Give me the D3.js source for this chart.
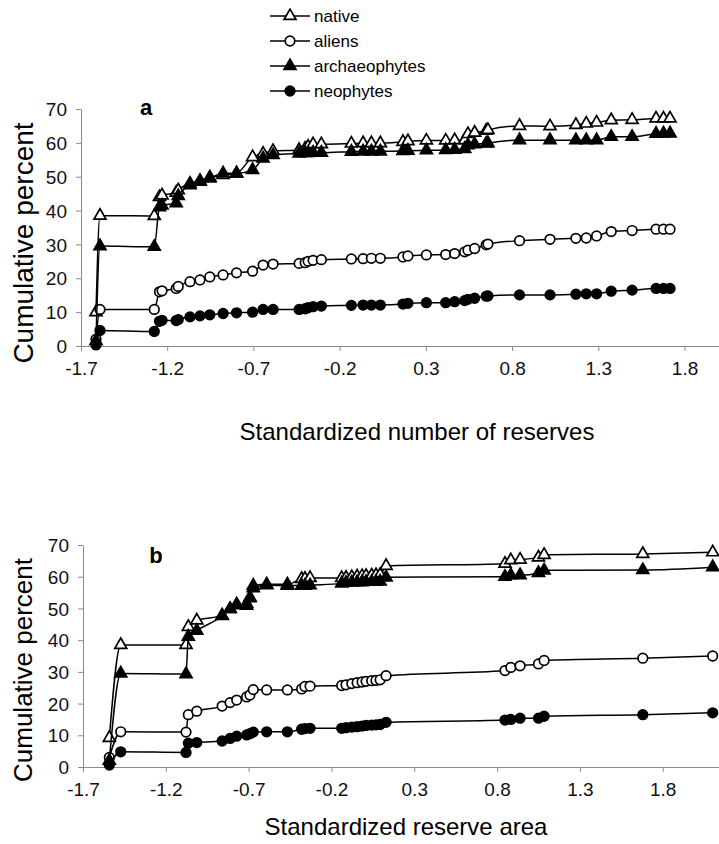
<!DOCTYPE html>
<html>
<head>
<meta charset="utf-8">
<script src="https://cdn.jsdelivr.net/npm/d3@7"></script>
<style>
body { margin: 0; background: #fff; }
text { font-family: "Liberation Sans", Arial, sans-serif; }
</style>
</head>
<body>
<script>
// series shared by both panels
var seriesNames = ["native", "aliens", "archaeophytes", "neophytes"]
var xTicks = [-1.7, -1.2, -0.7, -0.2, 0.3, 0.8, 1.3, 1.8]
var yTicks = [0, 10, 20, 30, 40, 50, 60, 70]

// panel a: standardized number of reserves
var xA = [-1.613, -1.59, -1.275, -1.245, -1.23, -1.148, -1.136, -1.068, -1.01, -0.953,
  -0.876, -0.798, -0.705, -0.644, -0.586, -0.435, -0.40, -0.383, -0.354, -0.306,
  -0.132, -0.064, -0.016, 0.036, 0.167, 0.196, 0.303, 0.415, 0.467, 0.525,
  0.544, 0.583, 0.65, 0.66, 0.843, 1.02, 1.17, 1.23, 1.29, 1.375,
  1.496, 1.635, 1.678, 1.716]
var nativeA = [10, 38.5, 38.4, 44, 44.5, 45.3, 46, 48, 48.8, 49.8,
  50.5, 51, 55.8, 56.8, 57.6, 57.9, 58.3, 58.9, 59.6, 59.6,
  59.8, 59.9, 59.9, 59.9, 60.3, 60.5, 60.7, 60.7, 60.8, 60.8,
  62.6, 63, 63.6, 63.8, 65, 64.9, 65.3, 65.7, 66, 66.7,
  66.8, 67.2, 67.2, 67.2]
var aliensA = [2, 10.8, 10.8, 16, 16.3, 17, 17.6, 19, 19.5, 20.4,
  21, 21.6, 22.1, 23.9, 24.2, 24.4, 24.6, 25, 25.3, 25.5,
  25.7, 25.8, 25.9, 25.9, 26.3, 26.6, 26.9, 27, 27.3, 27.8,
  28.3, 28.8, 29.9, 30.1, 31.1, 31.5, 31.8, 31.9, 32.5, 33.8,
  34.1, 34.5, 34.5, 34.5]
var archA = [1.5, 29.5, 29.3, 41, 41.5, 42.2, 44.3, 47.5, 48.5, 49.5,
  51, 51, 52, 55.4, 56.4, 56.9, 57, 57, 57.1, 57.1,
  57.4, 57.5, 57.5, 57.5, 57.6, 57.7, 57.8, 57.9, 58, 58.2,
  59.3, 59.6, 59.8, 59.9, 60.8, 60.8, 60.8, 60.8, 60.8, 61.8,
  61.8, 62.7, 62.8, 62.8]
var neoA = [0.3, 4.6, 4.3, 7.3, 7.6, 7.5, 7.8, 8.6, 8.9, 9.2,
  9.6, 9.8, 10, 10.8, 10.8, 10.8, 11, 11.3, 11.6, 11.8,
  12, 12.1, 12.1, 12.1, 12.4, 12.6, 12.8, 12.8, 13.1, 13.4,
  13.8, 14.1, 14.7, 14.8, 15.1, 15.1, 15.3, 15.4, 15.4, 16.2,
  16.5, 17, 17, 17]

// panel b: standardized reserve area
var xB = [-1.541, -1.472, -1.078, -1.064, -1.013, -0.86, -0.812, -0.772, -0.712, -0.692,
  -0.672, -0.591, -0.466, -0.38, -0.36, -0.329, -0.138, -0.112, -0.077, -0.045,
  -0.015, 0.009, 0.043, 0.069, 0.094, 0.13, 0.848, 0.883, 0.939, 1.05,
  1.084, 1.68, 2.102]
var nativeB = [9.2, 38.5, 38.5, 44.2, 46.2, 47.8, 49.8, 51, 51.5, 53.5,
  57.2, 57.6, 57.6, 59.3, 59.4, 59.6, 59.6, 59.7, 59.9, 60.1,
  60.2, 60.3, 60.4, 60.5, 60.6, 63.4, 64.1, 65.2, 65.4, 66.1,
  66.9, 67.2, 67.7]
var aliensB = [3, 11.1, 11, 16.5, 17.6, 19.2, 20.3, 21.1, 22.1, 22.7,
  24.4, 24.3, 24.3, 24.6, 25.4, 25.5, 25.7, 25.9, 26.3, 26.6,
  26.8, 27, 27.2, 27.3, 27.5, 28.8, 30.4, 31.4, 31.9, 32.5,
  33.6, 34.3, 35]
var archB = [2, 29.5, 29.3, 41.1, 43, 47.6, 49.8, 51.3, 50.9, 53.2,
  56.4, 57.3, 57.2, 57.2, 57.2, 57.3, 57.9, 58.1, 58.2, 58.3,
  58.3, 58.4, 58.4, 58.4, 58.5, 59.8, 60, 60.5, 60.5, 61.2,
  62, 62.1, 63]
var neoB = [0.6, 4.8, 4.6, 7.5, 7.7, 8.2, 9, 9.7, 10.1, 10.5,
  11, 11.1, 11.1, 11.9, 12.1, 12.2, 12.2, 12.4, 12.6, 12.7,
  12.9, 13.1, 13.2, 13.3, 13.4, 14.1, 14.8, 15, 15.4, 15.4,
  16, 16.5, 17.1]

var width = 719
var height = 844

var svg = d3.select("body")
  .append("svg")
  .attr("width", width)
  .attr("height", height)

// marker look per series: shape + fill
var styles = [
  { shape: d3.symbolTriangle, fill: "#fff", size: 62 },
  { shape: d3.symbolCircle, fill: "#fff", size: 72 },
  { shape: d3.symbolTriangle, fill: "#000", size: 62 },
  { shape: d3.symbolCircle, fill: "#000", size: 72 }
]

function drawPanel(p) {
  var x = d3.scaleLinear().domain(p.xDomain).range(p.xRange)
  var y = d3.scaleLinear().domain([0, 70]).range(p.yRange)
  var g = svg.append("g")

  var xAxis = g.append("g")
    .attr("transform", "translate(0," + p.yRange[0] + ")")
    .call(d3.axisBottom(x).tickValues(xTicks).tickSizeInner(5).tickSizeOuter(0)
      .tickFormat(function(d) { return d.toFixed(1) }))
  var yAxis = g.append("g")
    .attr("transform", "translate(" + p.xRange[0] + ",0)")
    .call(d3.axisLeft(y).tickValues(yTicks).tickSizeInner(5).tickSizeOuter(0)
      .tickFormat(d3.format("d")))

  ;[xAxis, yAxis].forEach(function(a) {
    a.select(".domain").attr("stroke", "#8a8a8a").attr("stroke-width", 1)
    a.selectAll(".tick line").attr("stroke", "#8a8a8a")
    a.selectAll(".tick text")
      .attr("fill", "#111")
      .style("font-size", "19px")
      .style("font-family", "Liberation Sans, Arial, sans-serif")
  })
  xAxis.selectAll(".tick text").attr("dy", null).attr("y", p.xLabelY)
  yAxis.selectAll(".tick text").attr("x", -14).attr("dy", "0.35em")

  var line = d3.line()
    .x(function(d) { return x(d[0]) })
    .y(function(d) { return y(d[1]) })
    .curve(d3.curveMonotoneX)

  p.series.forEach(function(vals, i) {
    var pts = p.xs.map(function(v, j) { return [v, vals[j]] })
    g.append("path")
      .attr("d", line(pts))
      .attr("fill", "none")
      .attr("stroke", "#000")
      .attr("stroke-width", 1.5)
    g.selectAll(".m" + i)
      .data(pts)
      .enter().append("path")
      .attr("class", "m" + i)
      .attr("transform", function(d) { return "translate(" + x(d[0]) + "," + y(d[1]) + ")" })
      .attr("d", d3.symbol(styles[i].shape, styles[i].size))
      .attr("fill", styles[i].fill)
      .attr("stroke", "#000")
      .attr("stroke-width", 1.7)
  })

  g.append("text")
    .attr("x", p.letterPos[0]).attr("y", p.letterPos[1])
    .attr("text-anchor", "middle")
    .style("font-size", "22px").style("font-weight", "bold")
    .text(p.letter)

  g.append("text")
    .attr("transform", "translate(" + p.yTitlePos[0] + "," + p.yTitlePos[1] + ") rotate(-90)")
    .attr("text-anchor", "middle")
    .style("font-size", p.yTitleSize + "px")
    .text("Cumulative percent")

  g.append("text")
    .attr("x", p.xTitlePos[0]).attr("y", p.xTitlePos[1])
    .attr("text-anchor", "middle")
    .style("font-size", "24px")
    .text(p.xTitle)
}

drawPanel({
  xs: xA, series: [nativeA, aliensA, archA, neoA],
  xDomain: [-1.7, 2.0], xRange: [81, 719], yRange: [346, 109],
  xLabelY: 29, letter: "a", letterPos: [146, 115],
  yTitlePos: [33, 243], yTitleSize: 28,
  xTitlePos: [417, 440], xTitle: "Standardized number of  reserves"
})

drawPanel({
  xs: xB, series: [nativeB, aliensB, archB, neoB],
  xDomain: [-1.7, 2.14], xRange: [83, 719], yRange: [767, 545],
  xLabelY: 29, letter: "b", letterPos: [156, 563],
  yTitlePos: [32, 670], yTitleSize: 26,
  xTitlePos: [406, 835], xTitle: "Standardized reserve area"
})

// legend, top centre
var legend = svg.append("g")
var legendY = [16, 41, 66, 91]
seriesNames.forEach(function(name, i) {
  var row = legend.append("g").attr("transform", "translate(0," + legendY[i] + ")")
  row.append("line").attr("x1", 270).attr("x2", 310)
    .attr("stroke", "#000").attr("stroke-width", 1.5)
  row.append("path")
    .attr("transform", "translate(290,0)")
    .attr("d", d3.symbol(styles[i].shape, styles[i].size))
    .attr("fill", styles[i].fill).attr("stroke", "#000").attr("stroke-width", 1.7)
  row.append("text").attr("x", 314).attr("dy", "0.35em")
    .style("font-size", "17px").text(name)
})
</script>
</body>
</html>
